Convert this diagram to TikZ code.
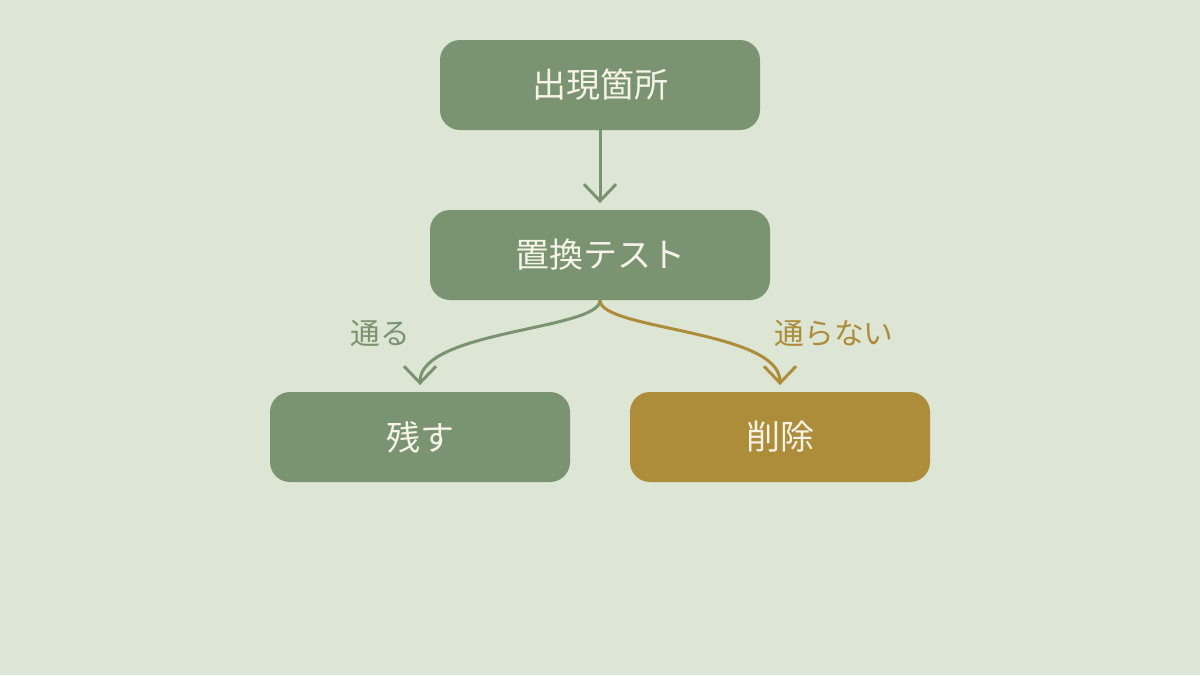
\documentclass[tikz,border=0pt]{standalone}
\usepackage{fontspec}
\setmainfont{Noto Sans CJK JP}
\usetikzlibrary{arrows.meta}
\definecolor{bg}{HTML}{DDE5D4}
\definecolor{sage}{HTML}{7A9370}
\definecolor{gold}{HTML}{AD8C3A}
\definecolor{paper}{HTML}{F6F3E8}
\tikzset{
  box/.style={rectangle, rounded corners=15pt, minimum height=67.5pt, text=paper, font=\fontsize{25.5}{30}\selectfont, inner sep=0pt},
  conn/.style={line width=2.25pt, -{Straight Barb[length=12.5pt, width=24pt, line width=2.25pt]}, shorten >=5pt},
  lbl/.style={font=\fontsize{22.3}{26}\selectfont}
}
\begin{document}
\begin{tikzpicture}[x=0.75pt,y=-0.75pt]
\fill[bg] (0,0) rectangle (1200,675);
\useasboundingbox (0,0) rectangle (1200,675);
\node[box, fill=sage, minimum width=240pt] (top) at (600,85) {\raisebox{1.5pt}{出現箇所}};
\node[box, fill=sage, minimum width=255pt] (test) at (600,255) {\raisebox{1.5pt}{置換テスト}};
\node[box, fill=sage, minimum width=225pt] (keep) at (420,437) {\raisebox{1.5pt}{残す}};
\node[box, fill=gold, minimum width=225pt] (del) at (780,437) {\raisebox{1.5pt}{削除}};
\draw[conn, sage] (top.south) -- (test.north);
\draw[conn, sage] (test.south) .. controls (600,330) and (420,330) .. (keep.north);
\draw[conn, gold] (test.south) .. controls (600,330) and (780,330) .. (del.north);
\node[lbl, text=sage] (pass) at (380,333) {通る};
\node[lbl, text=gold] (fail) at (834,333) {通らない};
\end{tikzpicture}
\end{document}
